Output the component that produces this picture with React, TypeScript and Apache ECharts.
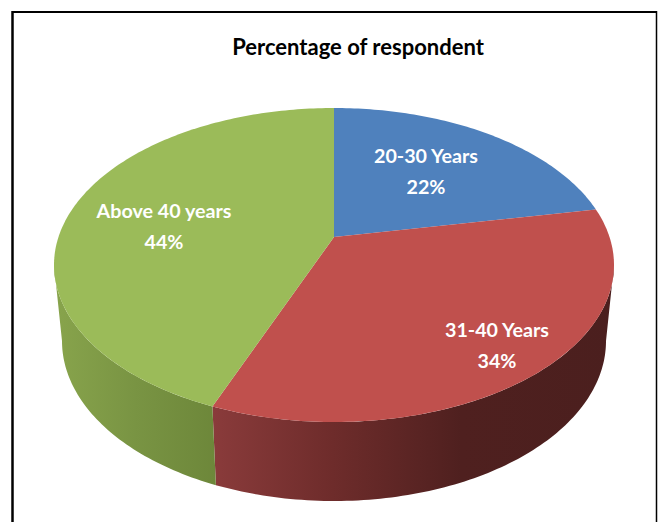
import React, { useEffect, useRef } from "react";
import * as echarts from "echarts";

const titleText = "Percentage of respondent";
const categories = ["20-30 Years", "31-40 Years", "Above 40 years"];
const percentValues = [22, 34, 44];
const topColors = ["#4f81bd", "#c0504d", "#9bbb59"];

const WIDTH = 663;
const HEIGHT = 522;
const FONT = "Lato, 'Open Sans', sans-serif";

// Perspective layout of the disc
const TOP = { cx: 334, cy: 265, rx: 280, ry: 157 };
const BOTTOM = { cx: 334, cy: 341, rx: 272, ry: 160 };
const APEX = { x: 334, y: 237 };
const TILT = (APEX.y - TOP.cy) / TOP.ry;
const LABEL_CENTERS = [
  [426, 171],
  [497, 345],
  [164, 226],
];

const unitPoint = (frac: number) => {
  const a = frac * 2 * Math.PI;
  const x = Math.sin(a);
  const y = -Math.cos(a);
  const d = 1 + TILT * y;
  return { x: (x * Math.sqrt(1 - TILT * TILT)) / d, y: (y + TILT) / d };
};
const onEllipse = (e: typeof TOP, p: { x: number; y: number }) => [e.cx + e.rx * p.x, e.cy + e.ry * p.y];

// fraction of the turn at which the projected point reaches the widest line of the ellipse
const silhouetteRight = Math.acos(TILT) / (2 * Math.PI);
const silhouetteLeft = 1 - silhouetteRight;

const arcFractions = (from: number, to: number) => {
  const n = Math.max(2, Math.ceil((to - from) * 360));
  const out: number[] = [];
  for (let i = 0; i <= n; i++) out.push(from + ((to - from) * i) / n);
  return out;
};

const wallFills: Record<number, any> = {
  1: new echarts.graphic.LinearGradient(0, 0, 1, 0, [
    { offset: 0, color: "#8a3b3b" },
    { offset: 0.3, color: "#6e2c2b" },
    { offset: 0.62, color: "#4f201f" },
    { offset: 1, color: "#4b1f1e" },
  ]),
  2: new echarts.graphic.LinearGradient(0, 0, 1, 0, [
    { offset: 0, color: "#88a44c" },
    { offset: 0.5, color: "#799443" },
    { offset: 1, color: "#6d873a" },
  ]),
};

let cumulative = 0;
const sliceRows = percentValues.map((v) => {
  const row = [v, cumulative];
  cumulative += v;
  return row;
});
const total = cumulative;

const renderSlice = (params: any, api: any) => {
  const i = params.dataIndex;
  const value = api.value(0);
  const start = api.value(1) / total;
  const end = start + value / total;
  const children: any[] = [];

  const wallFrom = Math.max(start, silhouetteRight);
  const wallTo = Math.min(end, silhouetteLeft);
  if (wallTo > wallFrom) {
    const fr = arcFractions(wallFrom, wallTo);
    const upper = fr.map((f) => onEllipse(TOP, unitPoint(f)));
    const lower = fr.map((f) => onEllipse(BOTTOM, unitPoint(f))).reverse();
    children.push({
      type: "polygon",
      shape: { points: [...upper, ...lower] },
      style: { fill: wallFills[i] },
    });
  }

  const arc = arcFractions(start, end).map((f) => onEllipse(TOP, unitPoint(f)));
  children.push({
    type: "polygon",
    shape: { points: [[APEX.x, APEX.y], ...arc] },
    style: { fill: topColors[i] },
  });

  children.push({
    type: "text",
    x: LABEL_CENTERS[i][0],
    y: LABEL_CENTERS[i][1],
    z2: 10,
    style: {
      text: `${categories[i]}\n${value}%`,
      fill: "#ffffff",
      font: `bold 19.7px ${FONT}`,
      lineHeight: 31,
      align: "center",
      verticalAlign: "middle",
    },
  });
  return { type: "group", children };
};

export default function App() {
  const ref = useRef<HTMLDivElement>(null);
  useEffect(() => {
    const chart = echarts.init(ref.current!, undefined, { renderer: "svg" });
    chart.setOption({
      animation: false,
      backgroundColor: "#ffffff",
      title: {
        text: titleText,
        left: 353,
        top: 30,
        textAlign: "center",
        textStyle: { color: "#000000", fontFamily: FONT, fontWeight: "bold", fontSize: 22 },
      },
      graphic: [
        { type: "line", shape: { x1: 12.5, y1: 11, x2: 12.5, y2: HEIGHT }, style: { stroke: "#000", lineWidth: 2.5 } },
        { type: "line", shape: { x1: 12, y1: 12, x2: 657, y2: 12 }, style: { stroke: "#000", lineWidth: 2 } },
        { type: "line", shape: { x1: 656.5, y1: 11, x2: 656.5, y2: HEIGHT }, style: { stroke: "#000", lineWidth: 1.5 } },
      ],
      series: [
        {
          type: "custom",
          coordinateSystem: "none",
          renderItem: renderSlice,
          data: sliceRows,
          silent: true,
        },
      ],
    });
    return () => chart.dispose();
  }, []);
  return (
    <div
      ref={ref}
      style={{ position: "fixed", left: 0, top: 0, width: WIDTH, height: HEIGHT, background: "#fff" }}
    />
  );
}
